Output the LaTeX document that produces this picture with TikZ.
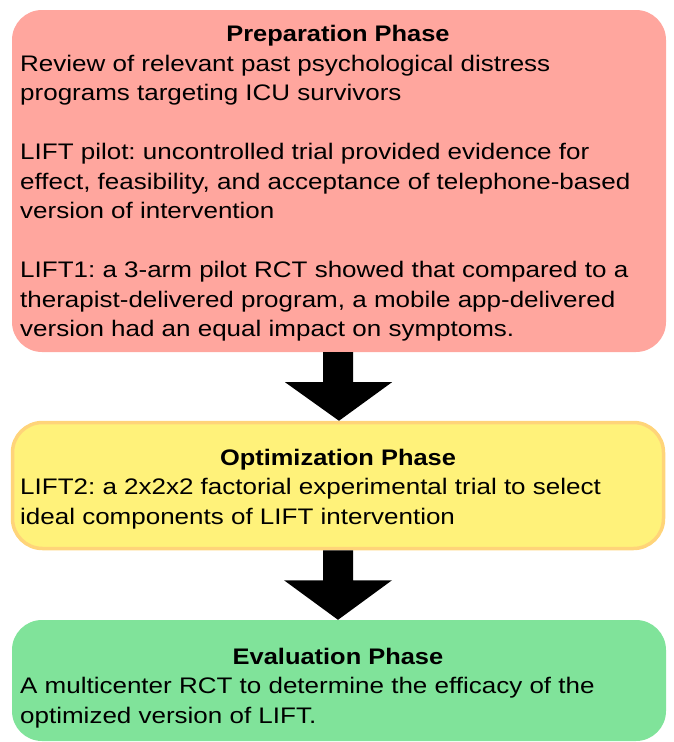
\documentclass[tikz,border=0pt]{standalone}
\usepackage{fontspec}
\setmainfont{Liberation Sans}[FakeStretch=1.155, BoldFeatures={FakeStretch=1.13}]
\usetikzlibrary{calc}
\definecolor{redfill}{HTML}{FFA69E}
\definecolor{yelfill}{HTML}{FFF27A}
\definecolor{yelborder}{HTML}{FFD479}
\definecolor{grnfill}{HTML}{80E39A}
\tikzset{
  phasebox/.style={rectangle, rounded corners=30pt, inner sep=0pt, draw=none},
  ttl/.style={anchor=base, inner sep=0pt, font=\fontsize{22.5}{29.5}\selectfont\bfseries\frenchspacing},
  txt/.style={anchor=base west, inner sep=0pt, font=\fontsize{22.5}{29.5}\selectfont\frenchspacing},
  bigarrow/.style={fill=black, draw=none}
}
\begin{document}
\begin{tikzpicture}[x=1pt, y=-1pt]
\useasboundingbox (0,0) rectangle (673,742);
% boxes
\node[phasebox, fill=redfill, minimum width=654pt, minimum height=342pt] (prep) at (339,181) {};
\node[phasebox, fill=yelfill, draw=yelborder, line width=3.5pt, minimum width=651pt, minimum height=126pt] (opt) at (338,485.5) {};
\node[phasebox, fill=grnfill, minimum width=654pt, minimum height=121pt] (eval) at (339,680.5) {};
% arrows
\fill[bigarrow] ($(prep.south)+(-16,0)$) -- ($(prep.south)+(14,0)$) -- ($(prep.south)+(14,30)$) -- ($(prep.south)+(53,30)$) -- (opt.north -| prep.south) -- ($(prep.south)+(-54,30)$) -- ($(prep.south)+(-16,30)$) -- cycle;
\fill[bigarrow] ($(opt.south)+(-15,0)$) -- ($(opt.south)+(15,0)$) -- ($(opt.south)+(15,30)$) -- ($(opt.south)+(54,30)$) -- (eval.north -| opt.south) -- ($(opt.south)+(-54,30)$) -- ($(opt.south)+(-15,30)$) -- cycle;
% preparation text
\node[ttl] (t1) at (338,41.5) {Preparation Phase};
\node[txt] (p1) at (20,71) {Review of relevant past psychological distress};
\node[txt] (p2) at (20,100.5) {programs targeting ICU survivors};
\node[txt] (p3) at (20,159.5) {LIFT pilot: uncontrolled trial provided evidence for};
\node[txt] (p4) at (20,189) {effect, feasibility, and acceptance of telephone-based};
\node[txt] (p5) at (20,218.5) {version of intervention};
\node[txt] (p6) at (20,277.5) {LIFT1: a 3-arm pilot RCT showed that compared to a};
\node[txt] (p7) at (20,307) {therapist-delivered program, a mobile app-delivered};
\node[txt] (p8) at (20,336.5) {version had an equal impact on symptoms.};
% optimization text
\node[ttl] (t2) at (338,465) {Optimization Phase};
\node[txt] (o1) at (20,494.5) {LIFT2: a 2x2x2 factorial experimental trial to select};
\node[txt] (o2) at (20,524) {ideal components of LIFT intervention};
% evaluation text
\node[ttl] (t3) at (338,664) {Evaluation Phase};
\node[txt] (e1) at (20,693.5) {A multicenter RCT to determine the efficacy of the};
\node[txt] (e2) at (20,723) {optimized version of LIFT.};
\end{tikzpicture}
\end{document}
